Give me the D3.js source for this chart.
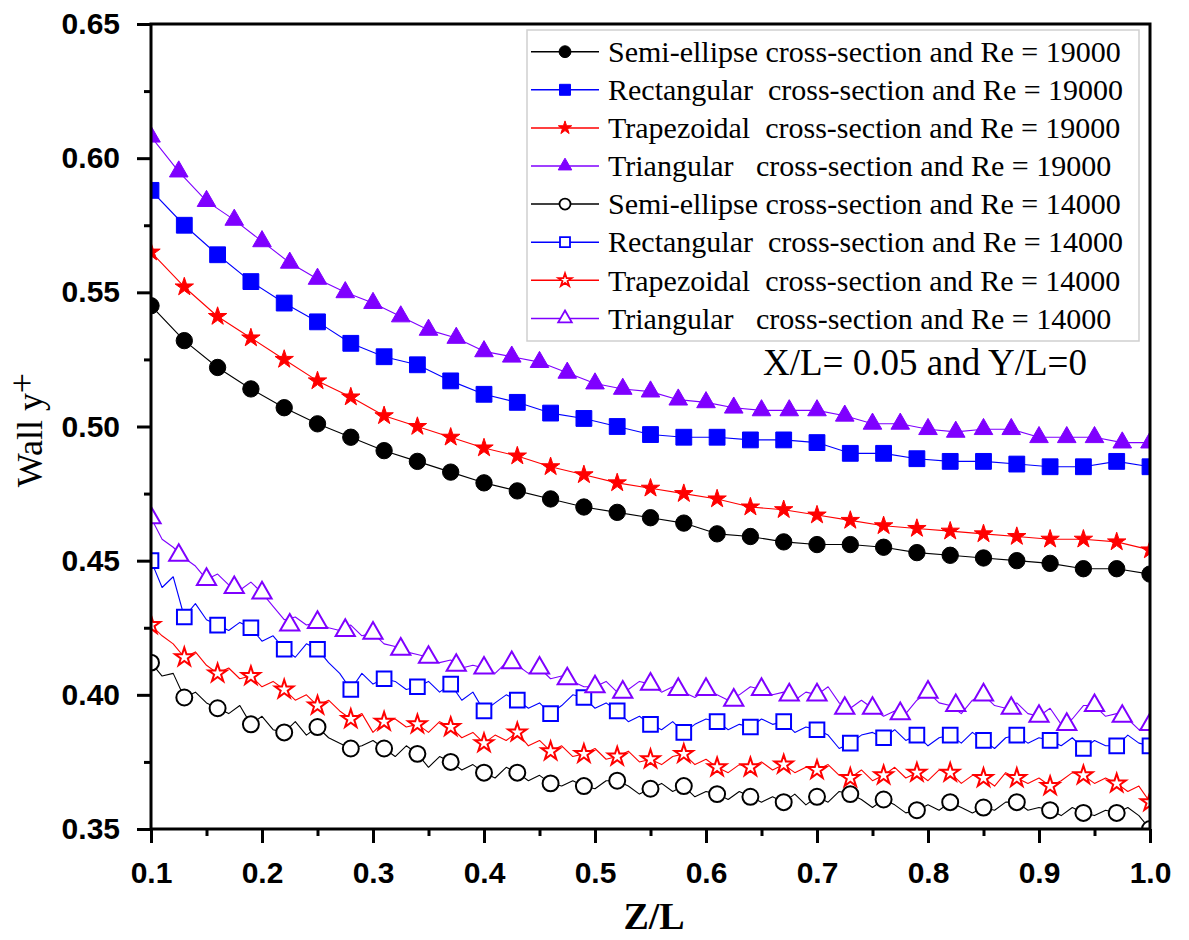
<!DOCTYPE html>
<html>
<head>
<meta charset="utf-8">
<script src="https://cdn.jsdelivr.net/npm/d3@7"></script>
<style>
    body { margin: 0; background: #fff; }
    text { white-space: pre; }
</style>
</head>
<body>
<div id="chart-area"></div>
<script>
// x positions of the markers (every 0.03, triangles every 0.025)
var xStep3 = [0.10, 0.13, 0.16, 0.19, 0.22, 0.25, 0.28, 0.31, 0.34, 0.37, 0.40, 0.43, 0.46, 0.49, 0.52,
    0.55, 0.58, 0.61, 0.64, 0.67, 0.70, 0.73, 0.76, 0.79, 0.82, 0.85, 0.88, 0.91, 0.94, 0.97, 1.00];
var xStep25 = [0.100, 0.125, 0.150, 0.175, 0.200, 0.225, 0.250, 0.275, 0.300, 0.325, 0.350, 0.375, 0.400,
    0.425, 0.450, 0.475, 0.500, 0.525, 0.550, 0.575, 0.600, 0.625, 0.650, 0.675, 0.700, 0.725, 0.750,
    0.775, 0.800, 0.825, 0.850, 0.875, 0.900, 0.925, 0.950, 0.975, 1.000];
// x positions of the raw Re = 14000 lines (every 0.01)
var xFine = d3.range(91).map(function (i) { return +(0.1 + i * 0.01).toFixed(2) });

// Re = 19000
var semi19000 = [0.545, 0.532, 0.522, 0.514, 0.507, 0.501, 0.496, 0.491, 0.487, 0.483, 0.479, 0.476, 0.473,
    0.470, 0.468, 0.466, 0.464, 0.460, 0.459, 0.457, 0.456, 0.456, 0.455, 0.453, 0.452, 0.451, 0.450, 0.449,
    0.447, 0.447, 0.445];
var rect19000 = [0.588, 0.575, 0.564, 0.554, 0.546, 0.539, 0.531, 0.526, 0.523, 0.517, 0.512, 0.509, 0.505,
    0.503, 0.500, 0.497, 0.496, 0.496, 0.495, 0.495, 0.494, 0.490, 0.490, 0.488, 0.487, 0.487, 0.486, 0.485,
    0.485, 0.487, 0.485];
var trap19000 = [0.565, 0.552, 0.541, 0.533, 0.525, 0.517, 0.511, 0.504, 0.500, 0.496, 0.492, 0.489, 0.485,
    0.482, 0.479, 0.477, 0.475, 0.473, 0.470, 0.469, 0.467, 0.465, 0.463, 0.462, 0.461, 0.460, 0.459, 0.458,
    0.458, 0.457, 0.454];
var tri19000 = [0.608, 0.595, 0.584, 0.577, 0.569, 0.561, 0.555, 0.550, 0.546, 0.541, 0.536, 0.533, 0.528,
    0.526, 0.524, 0.520, 0.516, 0.514, 0.513, 0.510, 0.509, 0.507, 0.506, 0.506, 0.506, 0.504, 0.501, 0.501,
    0.499, 0.498, 0.499, 0.499, 0.496, 0.496, 0.496, 0.494, 0.494];

// Re = 14000, marker values
var semi14000 = [0.412, 0.399, 0.395, 0.389, 0.386, 0.388, 0.380, 0.380, 0.378, 0.375, 0.371, 0.371, 0.367,
    0.366, 0.368, 0.365, 0.366, 0.363, 0.362, 0.360, 0.362, 0.363, 0.361, 0.357, 0.360, 0.358, 0.360, 0.357,
    0.356, 0.356, 0.350];
var rect14000 = [0.450, 0.429, 0.426, 0.425, 0.417, 0.417, 0.402, 0.406, 0.403, 0.404, 0.394, 0.398, 0.393,
    0.399, 0.394, 0.389, 0.386, 0.390, 0.388, 0.390, 0.387, 0.382, 0.384, 0.385, 0.385, 0.383, 0.385, 0.383,
    0.380, 0.381, 0.381];
var trap14000 = [0.426, 0.414, 0.408, 0.407, 0.402, 0.396, 0.391, 0.390, 0.389, 0.388, 0.382, 0.386, 0.379,
    0.378, 0.377, 0.376, 0.378, 0.373, 0.373, 0.374, 0.372, 0.369, 0.370, 0.371, 0.371, 0.369, 0.369, 0.366,
    0.370, 0.367, 0.360];
var tri14000 = [0.466, 0.452, 0.443, 0.440, 0.438, 0.426, 0.427, 0.424, 0.423, 0.417, 0.414, 0.411, 0.410,
    0.412, 0.410, 0.406, 0.403, 0.401, 0.404, 0.402, 0.402, 0.398, 0.402, 0.400, 0.400, 0.395, 0.395, 0.393,
    0.401, 0.396, 0.400, 0.395, 0.392, 0.389, 0.396, 0.392, 0.389];

// Re = 14000, raw (noisy) line values
var semi14000Line = [0.412, 0.407, 0.408, 0.399, 0.401, 0.397, 0.395, 0.393, 0.396, 0.389,
    0.392, 0.387, 0.386, 0.390, 0.385, 0.388, 0.384, 0.382, 0.380, 0.381,
    0.383, 0.380, 0.377, 0.381, 0.378, 0.373, 0.377, 0.375, 0.372, 0.374,
    0.371, 0.369, 0.373, 0.371, 0.368, 0.370, 0.367, 0.366, 0.368, 0.366,
    0.365, 0.368, 0.368, 0.366, 0.363, 0.365, 0.367, 0.364, 0.366, 0.362,
    0.364, 0.363, 0.361, 0.364, 0.362, 0.360, 0.362, 0.360, 0.363, 0.359,
    0.362, 0.360, 0.364, 0.363, 0.361, 0.358, 0.361, 0.359, 0.356, 0.357,
    0.359, 0.357, 0.360, 0.358, 0.356, 0.358, 0.357, 0.360, 0.360, 0.357,
    0.358, 0.357, 0.355, 0.358, 0.356, 0.355, 0.357, 0.356, 0.358, 0.355, 0.350];
var rect14000Line = [0.450, 0.440, 0.444, 0.429, 0.434, 0.428, 0.426, 0.424, 0.427, 0.425,
    0.420, 0.422, 0.417, 0.414, 0.419, 0.417, 0.412, 0.408, 0.402, 0.408,
    0.404, 0.406, 0.405, 0.402, 0.403, 0.405, 0.401, 0.404, 0.398, 0.401,
    0.394, 0.397, 0.400, 0.398, 0.395, 0.397, 0.393, 0.396, 0.400, 0.399,
    0.395, 0.397, 0.394, 0.390, 0.392, 0.389, 0.387, 0.390, 0.386, 0.389,
    0.391, 0.390, 0.387, 0.389, 0.388, 0.391, 0.389, 0.390, 0.386, 0.388,
    0.387, 0.385, 0.380, 0.382, 0.385, 0.386, 0.384, 0.387, 0.383, 0.385,
    0.381, 0.384, 0.385, 0.382, 0.386, 0.383, 0.380, 0.384, 0.385, 0.382,
    0.384, 0.383, 0.381, 0.384, 0.380, 0.383, 0.381, 0.381, 0.385, 0.382, 0.381];
var trap14000Line = [0.426, 0.422, 0.419, 0.414, 0.416, 0.411, 0.408, 0.410, 0.406, 0.407,
    0.403, 0.405, 0.402, 0.398, 0.400, 0.396, 0.398, 0.394, 0.391, 0.393,
    0.386, 0.390, 0.391, 0.388, 0.389, 0.386, 0.390, 0.388, 0.384, 0.386,
    0.382, 0.385, 0.383, 0.386, 0.381, 0.383, 0.379, 0.381, 0.377, 0.378,
    0.380, 0.376, 0.377, 0.379, 0.375, 0.376, 0.374, 0.377, 0.378, 0.374,
    0.376, 0.373, 0.371, 0.374, 0.373, 0.375, 0.372, 0.374, 0.371, 0.373,
    0.372, 0.374, 0.370, 0.369, 0.372, 0.368, 0.370, 0.373, 0.369, 0.371,
    0.368, 0.372, 0.371, 0.367, 0.370, 0.369, 0.366, 0.371, 0.369, 0.367,
    0.369, 0.366, 0.368, 0.371, 0.370, 0.367, 0.369, 0.367, 0.364, 0.366, 0.360];
var tri14000Line = [0.466, 0.458, 0.455, 0.451, 0.448, 0.443, 0.445, 0.441, 0.439, 0.442,
    0.438, 0.433, 0.428, 0.429, 0.426, 0.427, 0.425, 0.424, 0.426, 0.422,
    0.423, 0.419, 0.418, 0.416, 0.415, 0.414, 0.412, 0.413, 0.410, 0.411,
    0.410, 0.408, 0.412, 0.411, 0.408, 0.410, 0.406, 0.407, 0.405, 0.403,
    0.403, 0.405, 0.401, 0.402, 0.405, 0.404, 0.401, 0.403, 0.401, 0.399,
    0.402, 0.400, 0.398, 0.400, 0.403, 0.402, 0.400, 0.401, 0.398, 0.401,
    0.400, 0.403, 0.397, 0.395, 0.398, 0.395, 0.392, 0.394, 0.393, 0.398,
    0.401, 0.397, 0.396, 0.393, 0.398, 0.400, 0.396, 0.395, 0.397, 0.393,
    0.392, 0.395, 0.389, 0.391, 0.396, 0.396, 0.392, 0.393, 0.391, 0.387, 0.389];

var legendLabels = [
    'Semi-ellipse cross-section and Re = 19000',
    'Rectangular  cross-section and Re = 19000',
    'Trapezoidal  cross-section and Re = 19000',
    'Triangular   cross-section and Re = 19000',
    'Semi-ellipse cross-section and Re = 14000',
    'Rectangular  cross-section and Re = 14000',
    'Trapezoidal  cross-section and Re = 14000',
    'Triangular   cross-section and Re = 14000'
];
var yTicks = [0.35, 0.40, 0.45, 0.50, 0.55, 0.60, 0.65];
var yMinor = [0.375, 0.425, 0.475, 0.525, 0.575, 0.625];
var xTicks = [0.1, 0.2, 0.3, 0.4, 0.5, 0.6, 0.7, 0.8, 0.9, 1.0];
var xMinor = [0.15, 0.25, 0.35, 0.45, 0.55, 0.65, 0.75, 0.85, 0.95];

var violet = '#7f00ff';
var series = [
    { color: '#000', sym: d3.symbolCircle, size: 210, lsize: 110, filled: true, mx: xStep3, my: semi19000, lx: xStep3, ly: semi19000 },
    { color: '#0000ff', sym: d3.symbolSquare, size: 250, lsize: 120, filled: true, mx: xStep3, my: rect19000, lx: xStep3, ly: rect19000 },
    { color: '#ff0000', sym: d3.symbolStar, size: 105, lsize: 55, filled: true, mx: xStep3, my: trap19000, lx: xStep3, ly: trap19000 },
    { color: violet, sym: d3.symbolTriangle, size: 150, lsize: 80, filled: true, mx: xStep25, my: tri19000, lx: xStep25, ly: tri19000 },
    { color: '#000', sym: d3.symbolCircle, size: 200, lsize: 95, filled: false, mx: xStep3, my: semi14000, lx: xFine, ly: semi14000Line },
    { color: '#0000ff', sym: d3.symbolSquare, size: 215, lsize: 100, filled: false, mx: xStep3, my: rect14000, lx: xFine, ly: rect14000Line },
    { color: '#ff0000', sym: d3.symbolStar, size: 105, lsize: 55, filled: false, mx: xStep3, my: trap14000, lx: xFine, ly: trap14000Line },
    { color: violet, sym: d3.symbolTriangle, size: 160, lsize: 80, filled: false, mx: xStep25, my: tri14000, lx: xFine, ly: tri14000Line }
];

var margin = { top: 24, right: 39, bottom: 111, left: 151 };
var width = 1189 - margin.left - margin.right;
var height = 940 - margin.top - margin.bottom;

var svg = d3.select('#chart-area')
    .append('svg')
        .attr('width', 1189)
        .attr('height', 940);
var g = svg.append('g')
    .attr('transform', 'translate(' + margin.left + ',' + margin.top + ')');

var x = d3.scaleLinear().domain([0.1, 1.0]).range([0, width]);
var y = d3.scaleLinear().domain([0.35, 0.65]).range([height, 0]);

g.append('clipPath').attr('id', 'plot-clip')
    .append('rect').attr('width', width).attr('height', height);

var plot = g.append('g').attr('clip-path', 'url(#plot-clip)');

var line = d3.line()
    .x(function (d) { return x(d[0]) })
    .y(function (d) { return y(d[1]) });

// lines first, then markers
series.forEach(function (s) {
    var pts = s.lx.map(function (v, i) { return [v, s.ly[i]] });
    plot.append('path')
        .attr('d', line(pts))
        .attr('fill', 'none')
        .attr('stroke', s.color)
        .attr('stroke-width', 1.1)
        .attr('stroke-linejoin', 'round');
});
series.forEach(function (s) {
    var sym = d3.symbol().type(s.sym).size(s.size);
    plot.append('g').selectAll('path')
        .data(s.mx.map(function (v, i) { return [v, s.my[i]] }))
        .enter()
        .append('path')
            .attr('transform', function (d) { return 'translate(' + x(d[0]) + ',' + y(d[1]) + ')' })
            .attr('d', sym)
            .attr('fill', s.filled ? s.color : '#fff')
            .attr('stroke', s.color)
            .attr('stroke-width', s.filled ? 1 : 2);
});

// Axes
var tickFont = '"Liberation Sans", Arial, sans-serif';
var yAxisCall = d3.axisLeft(y).tickValues(yTicks).tickSize(14).tickPadding(17)
    .tickFormat(d3.format('.2f'));
g.append('g').attr('class', 'left axis').call(yAxisCall);
g.append('g').call(d3.axisLeft(y).tickValues(yMinor).tickSize(7).tickFormat(''));

var xAxisCall = d3.axisBottom(x).tickValues(xTicks).tickSize(14).tickPadding(19)
    .tickFormat(d3.format('.1f'));
g.append('g').attr('class', 'bottom axis')
    .attr('transform', 'translate(0, ' + height + ')').call(xAxisCall);
g.append('g').attr('transform', 'translate(0, ' + height + ')')
    .call(d3.axisBottom(x).tickValues(xMinor).tickSize(7).tickFormat(''));

g.selectAll('.domain').remove();
g.selectAll('.tick line').attr('stroke', '#000').attr('stroke-width', 3);
g.selectAll('.tick text')
    .attr('fill', '#000')
    .style('font-family', tickFont)
    .style('font-size', '30px')
    .style('font-weight', 'bold');

// frame
g.append('rect')
    .attr('width', width)
    .attr('height', height)
    .attr('fill', 'none')
    .attr('stroke', '#000')
    .attr('stroke-width', 3);

// Axis labels
var serif = '"Liberation Serif", "Times New Roman", serif';
svg.append('text')
    .attr('x', 654)
    .attr('y', 929)
    .attr('text-anchor', 'middle')
    .style('font-family', serif)
    .style('font-size', '38px')
    .style('font-weight', 'bold')
    .text('Z/L');

var yLab = svg.append('text')
    .attr('transform', 'translate(42, 430) rotate(-90)')
    .attr('text-anchor', 'middle')
    .style('font-family', serif)
    .style('font-size', '36px');
yLab.append('tspan').text('Wall y');
yLab.append('tspan').attr('dy', '-0.22em').text('+');

// Annotation
svg.append('text')
    .attr('x', 763)
    .attr('y', 375)
    .style('font-family', serif)
    .style('font-size', '37px')
    .text('X/L= 0.05 and Y/L=0');

// Legend
var legend = svg.append('g');
legend.append('rect')
    .attr('x', 527).attr('y', 30)
    .attr('width', 612).attr('height', 311)
    .attr('fill', '#fff')
    .attr('stroke', '#cfcfcf')
    .attr('stroke-width', 1.5);

var rows = legend.selectAll('.row').data(series)
    .enter()
    .append('g')
        .attr('class', 'row')
        .attr('transform', function (d, i) { return 'translate(0,' + (51.7 + i * 38.1) + ')' });
rows.append('line')
    .attr('x1', 531).attr('x2', 599)
    .attr('stroke', function (d) { return d.color })
    .attr('stroke-width', 1.5);
rows.append('path')
    .attr('transform', 'translate(565,0)')
    .attr('d', function (d) { return d3.symbol().type(d.sym).size(d.lsize)() })
    .attr('fill', function (d) { return d.filled ? d.color : '#fff' })
    .attr('stroke', function (d) { return d.color })
    .attr('stroke-width', function (d) { return d.filled ? 1 : 1.8 });
rows.append('text')
    .attr('x', 608)
    .attr('dy', '0.34em')
    .style('font-family', serif)
    .style('font-size', '30px')
    .text(function (d, i) { return legendLabels[i] });
</script>
</body>
</html>
